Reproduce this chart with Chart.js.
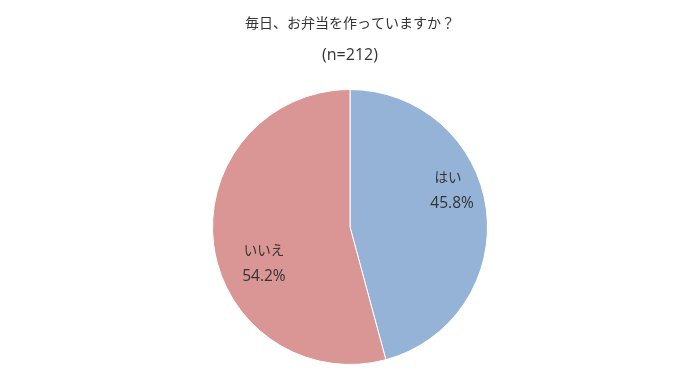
<!DOCTYPE html>
<html>
<head>
<meta charset="utf-8">
<script src="https://cdn.jsdelivr.net/npm/chart.js@4"></script>
<style>
  html, body { margin: 0; padding: 0; background: #fff; }
  #wrap { width: 700px; height: 385px; }
</style>
</head>
<body>
<div id="wrap"><canvas id="canvas"></canvas></div>
<script>
"use strict";

// データ
const labels = ['はい', 'いいえ'];
const values = [45.8, 54.2];
const colors = ['#95B3D7', '#D99694'];
const titleText = '毎日、お弁当を作っていますか？';
const subtitleText = '(n=212)';

const FONT = "'Open Sans', 'Noto Sans CJK JP', sans-serif";

// 扇形の中にラベルを描く
const sliceLabels = {
  id: 'sliceLabels',
  afterDatasetsDraw(chart) {
    const ctx = chart.ctx;
    const meta = chart.getDatasetMeta(0);
    ctx.save();
    ctx.fillStyle = '#333';
    ctx.textAlign = 'center';
    ctx.textBaseline = 'middle';
    meta.data.forEach((arc, i) => {
      const mid = (arc.startAngle + arc.endAngle) / 2 - 14 * Math.PI / 180;
      const r = arc.outerRadius * 0.72;
      const x = arc.x + r * Math.cos(mid) + 6;
      const y = arc.y + r * Math.sin(mid);
      ctx.font = "13.5px 'Noto Sans CJK JP', sans-serif";
      ctx.fillText(labels[i], x, y - 14);
      ctx.font = '15.5px ' + FONT;
      ctx.fillText(values[i].toFixed(1) + '%', x + (i === 0 ? 4 : 0), y + 13);
    });
    ctx.restore();
  }
};

const canvas = document.getElementById('canvas');
const ctx = canvas.getContext('2d');

let myChart = new Chart(ctx, {
  type: 'pie',
  data: {
    labels: labels,
    datasets: [{
      data: values,
      backgroundColor: colors,
      borderColor: '#ffffff',
      borderWidth: 1
    }]
  },
  options: {
    responsive: true,
    maintainAspectRatio: false,
    animation: false,
    layout: { padding: { bottom: 20 } },
    plugins: {
      legend: { display: false },
      tooltip: { enabled: false },
      title: {
        display: true,
        text: titleText,
        color: '#333',
        font: { family: "'Noto Sans CJK JP', sans-serif", size: 14, weight: 'normal' },
        padding: { top: 14, bottom: 15 }
      },
      subtitle: {
        display: true,
        text: subtitleText,
        color: '#333',
        font: { family: FONT, size: 16, weight: 'normal' },
        padding: { top: 0, bottom: 24 }
      }
    }
  },
  plugins: [sliceLabels]
});
</script>
</body>
</html>
